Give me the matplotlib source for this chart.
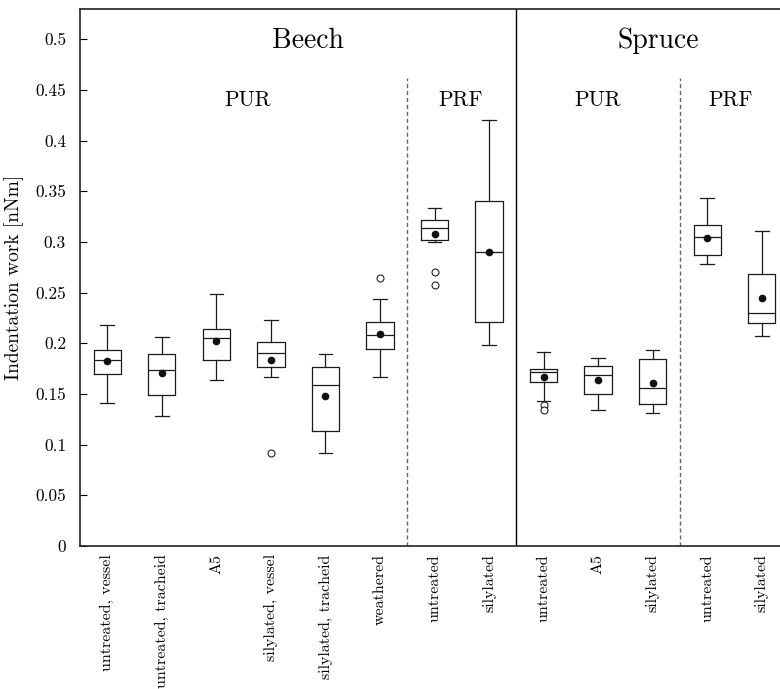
import matplotlib
matplotlib.use("Agg")
import matplotlib.pyplot as plt

plt.rcParams['font.family'] = ['cmr10', 'DejaVu Serif']
plt.rcParams['mathtext.fontset'] = 'cm'
plt.rcParams['axes.formatter.use_mathtext'] = True

# ---- data ----
labels = ["untreated, vessel", "untreated, tracheid", "A5", "silylated, vessel",
          "silylated, tracheid", "weathered", "untreated", "silylated",
          "untreated", "A5", "silylated", "untreated", "silylated"]
whislo = [0.141, 0.128, 0.164, 0.167, 0.092, 0.167, 0.300, 0.198, 0.143, 0.134, 0.131, 0.278, 0.207]
q1     = [0.170, 0.149, 0.184, 0.177, 0.113, 0.194, 0.302, 0.221, 0.162, 0.150, 0.140, 0.287, 0.220]
med    = [0.184, 0.174, 0.205, 0.190, 0.159, 0.208, 0.314, 0.290, 0.172, 0.169, 0.156, 0.305, 0.230]
q3     = [0.193, 0.189, 0.214, 0.201, 0.177, 0.221, 0.322, 0.340, 0.175, 0.178, 0.185, 0.317, 0.268]
whishi = [0.218, 0.206, 0.249, 0.223, 0.189, 0.244, 0.334, 0.420, 0.191, 0.186, 0.193, 0.343, 0.311]
means  = [0.183, 0.171, 0.202, 0.184, 0.148, 0.209, 0.308, 0.290, 0.167, 0.164, 0.161, 0.304, 0.245]
fliers = [[], [], [], [0.092], [], [0.264], [0.270, 0.258], [], [0.1395, 0.1345], [], [], [], []]

yticks = [0, 0.05, 0.1, 0.15, 0.2, 0.25, 0.3, 0.35, 0.4, 0.45, 0.5]
ytick_labels = ["0", "0.05", "0.1", "0.15", "0.2", "0.25", "0.3", "0.35", "0.4", "0.45", "0.5"]

species = ["Beech", "Spruce"]
species_x = [4.68, 11.1]
glue = ["PUR", "PRF", "PUR", "PRF"]
glue_x = [3.58, 7.47, 10.0, 12.43]

stats = []
for i in range(len(labels)):
    stats.append(dict(whislo=whislo[i], q1=q1[i], med=med[i], q3=q3[i],
                      whishi=whishi[i], mean=means[i], fliers=fliers[i]))

fig = plt.figure(figsize=(7.8, 6.89), dpi=100)
ax = fig.add_axes([80/780, (689-546)/689, 709/780, (546-9.3)/689])

lc = '#1a1a1a'
lw = 0.9
positions = list(range(1, len(labels) + 1))
ax.bxp(stats, positions=positions, widths=0.5, capwidths=0.25, showmeans=True,
       boxprops=dict(color=lc, linewidth=lw),
       whiskerprops=dict(color=lc, linewidth=lw),
       capprops=dict(color=lc, linewidth=lw),
       medianprops=dict(color=lc, linewidth=lw),
       meanprops=dict(marker='o', markerfacecolor='#111111', markeredgecolor='#111111', markersize=4.5),
       flierprops=dict(marker='o', markerfacecolor='white', markeredgecolor='#222222',
                       markersize=5, markeredgewidth=0.8))

ax.set_xlim(0.5, 13.5)
ax.set_ylim(0, 0.5296)

# separators
ax.axvline(8.5, color='black', linewidth=1.0)
ax.plot([6.5, 6.5], [0, 0.462], color='#666666', linewidth=1.0, linestyle=(0, (3, 2)))
ax.plot([11.5, 11.5], [0, 0.462], color='#666666', linewidth=1.0, linestyle=(0, (3, 2)))

for name, x in zip(species, species_x):
    ax.text(x, 0.4985, name, ha='center', va='center', fontsize=20)
for name, x in zip(glue, glue_x):
    ax.text(x, 0.4395, name, ha='center', va='center', fontsize=15.5)

ax.set_yticks(yticks)
ax.set_yticklabels(ytick_labels, fontsize=12.5)
ax.set_xticks(positions)
ax.set_xticklabels(labels, rotation=90, fontsize=11.5, va='top', ha='center')
ax.tick_params(axis='x', length=0, pad=6)
ax.tick_params(axis='y', direction='in', length=5, width=0.8, pad=10)
ax.set_ylabel("Indentation work [nNm]", fontsize=14, labelpad=8)

for s in ['left', 'bottom', 'top']:
    ax.spines[s].set_linewidth(1.2)
    ax.spines[s].set_color('#222222')
ax.spines['right'].set_visible(False)

fig.savefig("out.png", dpi=100)
